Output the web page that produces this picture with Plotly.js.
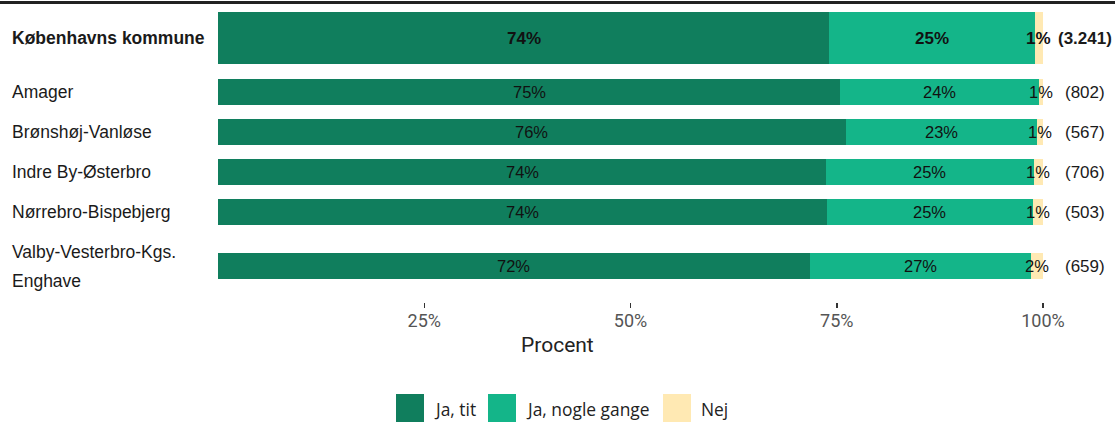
<!DOCTYPE html>
<html><head><meta charset="utf-8">
<script src="https://cdn.plot.ly/plotly-3.0.1.min.js"></script>
<style>body{margin:0;background:#fff}#chart{width:1115px;height:423px}</style>
</head><body><div id="chart"></div>
<script>
// ---- data ----
const areas = ["Københavns kommune", "Amager", "Brønshøj-Vanløse", "Indre By-Østerbro", "Nørrebro-Bispebjerg", "Valby-Vesterbro-Kgs.\nEnghave"];
const counts = ["(3.241)", "(802)", "(567)", "(706)", "(503)", "(659)"];
const seriesNames = ["Ja, tit", "Ja, nogle gange", "Nej"];
const jaTit = [74.1, 75.4, 76.1, 73.7, 73.8, 71.7];
const jaNogle = [24.9, 24.1, 23.2, 25.2, 25.0, 26.8];
const nej = [1.0, 0.5, 0.7, 1.1, 1.2, 1.5];
const xTicks = [25, 50, 75, 100];
const xTickText = ["25%", "50%", "75%", "100%"];
const xTitle = "Procent";

// ---- layout constants (not data) ----
const rowPos = [0, 1.35, 2.35, 3.35, 4.35, 5.7];
const rowWidth = [1.3, 0.65, 0.65, 0.65, 0.65, 0.65];
const colors = ["#107E5D", "#14B589", "#FFE9B3"];
const W = 1115, H = 423, L = 218, R = 72, T = 8, B = 121;
const pw = W - L - R, ph = H - T - B;
const px2x = p => (p - L) / pw;
const py2y = p => (H - B - p) / ph;
const labelFont = "Liberation Sans, Arial, sans-serif";

const series = [jaTit, jaNogle, nej];
const traces = series.map((vals, i) => ({
  type: "bar", orientation: "h", name: seriesNames[i],
  x: vals, y: rowPos, width: rowWidth,
  marker: {color: colors[i], line: {width: 0}},
  hoverinfo: "x+name", showlegend: false
}));

const annotations = [];
areas.forEach((a, r) => {
  let cum = 0;
  series.forEach((vals) => {
    const v = vals[r];
    annotations.push({
      x: cum + v / 2, y: rowPos[r], xref: "x", yref: "y", showarrow: false,
      text: (r === 0 ? "<b>" : "") + Math.round(v) + "%" + (r === 0 ? "</b>" : ""),
      font: {family: labelFont, size: r === 0 ? 17 : 16.5, color: "#111"}
    });
    cum += v;
  });
  annotations.push({
    x: px2x(1085), y: rowPos[r], xref: "paper", yref: "y", showarrow: false,
    xanchor: "center",
    text: r === 0 ? "<b>" + counts[r] + "</b>" : counts[r],
    font: {family: labelFont, size: 17, color: "#1a1a1a"}
  });
  const lines = a.split("\n");
  lines.forEach((ln, k) => {
    annotations.push({
      x: px2x(10), y: rowPos[r], xref: "paper", yref: "y", showarrow: false,
      xanchor: "left", yanchor: "middle",
      yshift: -(k - (lines.length - 1) / 2) * 29,
      text: r === 0 ? "<b>" + ln + "</b>" : ln,
      font: {family: labelFont, size: 17.5, color: "#1a1a1a"}
    });
  });
});

annotations.push({
  x: px2x(557), y: py2y(345), xref: "paper", yref: "paper", showarrow: false,
  xanchor: "center", yanchor: "middle", text: xTitle,
  font: {family: "Roboto, sans-serif", size: 21, color: "#222"}
});

const legKeyX = [396, 488, 663];
const shapes = [{
  type: "line", xref: "paper", yref: "paper",
  x0: px2x(0), x1: px2x(W), y0: py2y(2.5), y1: py2y(2.5),
  line: {color: "#222", width: 3}
}];
seriesNames.forEach((n, i) => {
  shapes.push({
    type: "rect", xref: "paper", yref: "paper",
    x0: px2x(legKeyX[i]), x1: px2x(legKeyX[i] + 28),
    y0: py2y(394), y1: py2y(422),
    fillcolor: colors[i], line: {width: 0}
  });
  annotations.push({
    x: px2x(legKeyX[i] + 36), y: py2y(409), xref: "paper", yref: "paper",
    showarrow: false, xanchor: "left", yanchor: "middle", text: n,
    font: {family: "Open Sans, sans-serif", size: 17.4, color: "#222"}
  });
});

const layout = {
  width: W, height: H,
  margin: {l: L, r: R, t: T, b: B, pad: 0},
  paper_bgcolor: "#fff", plot_bgcolor: "#fff",
  barmode: "stack", bargap: 0,
  showlegend: false,
  xaxis: {
    range: [0, 100], tickvals: xTicks, ticktext: xTickText,
    ticks: "outside", ticklen: 5, tickwidth: 1.5, tickcolor: "#333",
    ticklabelstandoff: -3,
    showgrid: false, zeroline: false, showline: false,
    tickfont: {family: "Roboto, sans-serif", size: 18, color: "#555"},
    fixedrange: true
  },
  yaxis: {
    range: [6.6, -0.75], visible: false, showgrid: false, zeroline: false,
    fixedrange: true
  },
  annotations: annotations,
  shapes: shapes
};

Plotly.newPlot("chart", traces, layout, {displayModeBar: false, staticPlot: true});
</script>
</body></html>
